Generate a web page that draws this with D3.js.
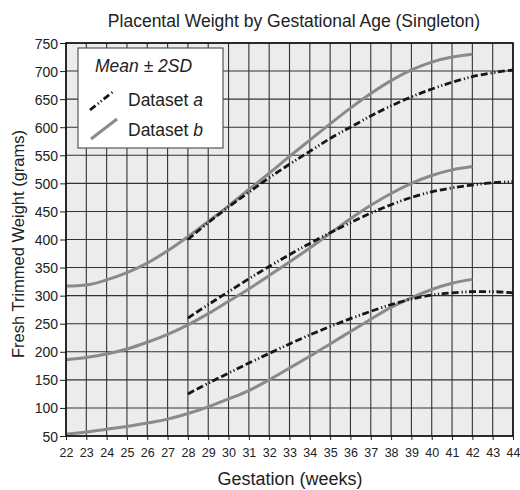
<!DOCTYPE html>
<html>
<head>
<meta charset="utf-8">
<script src="https://cdn.jsdelivr.net/npm/d3@7"></script>
<style>
  body { margin: 0; background: #fff; }
  text { font-family: "Liberation Sans", Arial, sans-serif; fill: #222; }
</style>
</head>
<body>
<div id="chart"></div>
<script>
// weeks for each dataset
var weeksA = [28, 29, 30, 31, 32, 33, 34, 35, 36, 37, 38, 39, 40, 41, 42, 43, 44];
var weeksB = [22, 23, 24, 25, 26, 27, 28, 29, 30, 31, 32, 33, 34, 35, 36, 37, 38, 39, 40, 41, 42];

// Dataset a (dash-dot black): mean + 2SD, mean, mean - 2SD
var upperA = [400, 430, 458, 484, 510, 534, 557, 580, 600, 620, 638, 654, 668, 680, 690, 697, 702];
var meanA  = [260, 284, 307, 330, 352, 373, 393, 412, 430, 447, 462, 475, 485, 492, 497, 501, 503];
var lowerA = [125, 144, 162, 180, 197, 214, 230, 245, 259, 272, 284, 294, 301, 305, 307, 307, 305];

// Dataset b (solid grey)
var upperB = [317, 319, 328, 341, 358, 380, 405, 432, 460, 489, 518, 548, 577, 606, 634, 660, 683, 702, 716, 725, 730];
var meanB  = [186, 190, 196, 205, 217, 231, 248, 268, 290, 312, 336, 360, 385, 411, 437, 461, 482, 500, 514, 524, 530];
var lowerB = [53, 57, 62, 67, 73, 80, 90, 102, 116, 131, 150, 171, 192, 214, 236, 258, 279, 296, 311, 322, 329];

var xTicks = d3.range(22, 45);
var yTicks = d3.range(50, 751, 50);

var margin = { top: 43, right: 7, bottom: 54, left: 66 },
  width = 520 - margin.left - margin.right,
  height = 490 - margin.top - margin.bottom;

var svg = d3.select("#chart")
  .append("svg")
  .attr("width", 520)
  .attr("height", 490);

var g = svg.append("g")
  .attr("transform", "translate(" + margin.left + "," + margin.top + ")");

var x = d3.scaleLinear().domain([22, 44]).range([0, width]);
var y = d3.scaleLinear().domain([50, 750]).range([height, 0]);

// plot background
g.append("rect")
  .attr("width", width)
  .attr("height", height)
  .attr("fill", "#ececec");

// grid
g.selectAll(".vgrid")
  .data(xTicks)
  .enter()
  .append("line")
  .attr("class", "vgrid")
  .attr("x1", function(d) { return x(d); })
  .attr("x2", function(d) { return x(d); })
  .attr("y1", 0)
  .attr("y2", height)
  .attr("stroke", "#333")
  .attr("stroke-width", 1.1);

g.selectAll(".hgrid")
  .data(yTicks)
  .enter()
  .append("line")
  .attr("class", "hgrid")
  .attr("x1", 0)
  .attr("x2", width)
  .attr("y1", function(d) { return y(d); })
  .attr("y2", function(d) { return y(d); })
  .attr("stroke", "#333")
  .attr("stroke-width", 1.1);

// axes
var xAxis = d3.axisBottom(x).tickValues(xTicks).tickFormat(d3.format("d")).tickSize(4).tickSizeOuter(0);
var yAxis = d3.axisLeft(y).tickValues(yTicks).tickSize(6).tickSizeOuter(0);

var gx = g.append("g")
  .attr("transform", "translate(0," + height + ")")
  .call(xAxis);
gx.select(".domain").remove();
gx.selectAll("text").attr("font-size", 12.5).attr("dy", "1.1em");
gx.selectAll("line").attr("stroke", "#222");

var gy = g.append("g").call(yAxis);
gy.select(".domain").remove();
gy.selectAll("text").attr("font-size", 14).attr("dy", "0.36em").attr("x", -8);
gy.selectAll("line").attr("stroke", "#222");

// curves
var line = d3.line()
  .x(function(d) { return x(d[0]); })
  .y(function(d) { return y(d[1]); })
  .curve(d3.curveMonotoneX);

function pairs(weeks, vals) {
  return weeks.map(function(w, i) { return [w, vals[i]]; });
}

[upperB, meanB, lowerB].forEach(function(s) {
  g.append("path")
    .datum(pairs(weeksB, s))
    .attr("d", line)
    .attr("fill", "none")
    .attr("stroke", "#8a8a8a")
    .attr("stroke-width", 3);
});

[upperA, meanA, lowerA].forEach(function(s) {
  g.append("path")
    .datum(pairs(weeksA, s))
    .attr("d", line)
    .attr("fill", "none")
    .attr("stroke", "#161616")
    .attr("stroke-width", 2.8)
    .attr("stroke-dasharray", "7,3,7,3,1.2,2.5,1.2,2.5");
});

// border
g.append("rect")
  .attr("width", width)
  .attr("height", height)
  .attr("fill", "none")
  .attr("stroke", "#111")
  .attr("stroke-width", 1.6);

// legend
var leg = svg.append("g");
leg.append("rect")
  .attr("x", 78).attr("y", 48)
  .attr("width", 145).attr("height", 100)
  .attr("fill", "#fff")
  .attr("stroke", "#555")
  .attr("stroke-width", 1.2);
leg.append("text")
  .attr("x", 95).attr("y", 72)
  .attr("font-size", 17.5)
  .attr("font-style", "italic")
  .text("Mean \u00b1 2SD");
leg.append("line")
  .attr("x1", 90).attr("y1", 110).attr("x2", 114).attr("y2", 91)
  .attr("stroke", "#161616").attr("stroke-width", 2.8)
  .attr("stroke-dasharray", "7,3,1.2,2.5,1.2,2.5");
leg.append("line")
  .attr("x1", 91).attr("y1", 139).attr("x2", 117).attr("y2", 119)
  .attr("stroke", "#8a8a8a").attr("stroke-width", 3);
var ta = leg.append("text").attr("x", 128).attr("y", 106).attr("font-size", 17.5);
ta.append("tspan").text("Dataset ");
ta.append("tspan").attr("font-style", "italic").text("a");
var tb = leg.append("text").attr("x", 128).attr("y", 136).attr("font-size", 17.5);
tb.append("tspan").text("Dataset ");
tb.append("tspan").attr("font-style", "italic").text("b");

// titles
svg.append("text")
  .attr("x", 294)
  .attr("y", 27)
  .attr("text-anchor", "middle")
  .attr("font-size", 17.5)
  .text("Placental Weight by Gestational Age (Singleton)");

svg.append("text")
  .attr("x", 290)
  .attr("y", 485)
  .attr("text-anchor", "middle")
  .attr("font-size", 18)
  .text("Gestation (weeks)");

svg.append("text")
  .attr("transform", "translate(24,244) rotate(-90)")
  .attr("text-anchor", "middle")
  .attr("font-size", 16.5)
  .text("Fresh Trimmed Weight (grams)");
</script>
</body>
</html>
